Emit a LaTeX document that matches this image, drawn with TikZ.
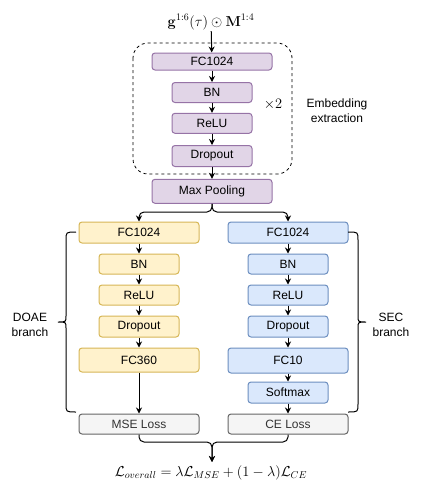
\documentclass[tikz,border=0pt]{standalone}
\usepackage[no-math]{fontspec}
\setmainfont{Liberation Sans}
\usetikzlibrary{arrows.meta}
\definecolor{embfill}{HTML}{E1D5E7}
\definecolor{embline}{HTML}{9673A6}
\definecolor{doafill}{HTML}{FFF2CC}
\definecolor{doaline}{HTML}{D6B656}
\definecolor{secfill}{HTML}{DAE8FC}
\definecolor{secline}{HTML}{6C8EBF}
\definecolor{lossfill}{HTML}{F5F5F5}
\definecolor{lossline}{HTML}{666666}
\definecolor{losstext}{HTML}{333333}
\begin{document}
\begin{tikzpicture}[x=1pt,y=-1pt,line width=1pt,
		font=\fontsize{12}{15}\selectfont,
		layer/.style={draw,rounded corners=3pt,inner sep=0pt,minimum height=20pt},
		wide/.style={minimum width=120pt},
		narrow/.style={minimum width=80pt},
		emb/.style={layer,fill=embfill,draw=embline},
		doa/.style={layer,fill=doafill,draw=doaline},
		sec/.style={layer,fill=secfill,draw=secline},
		loss/.style={layer,fill=lossfill,draw=lossline,text=losstext},
		formula/.style={font=\fontsize{14}{17}\selectfont,inner sep=1pt},
		arr/.style={-{Stealth[length=6pt,width=6pt,inset=2pt]}}]
		\useasboundingbox (0,0) rectangle (422,493);
		% embedding extraction
		\node [formula] (in) at(211,22) {$\mathbf{g}^{1:6}(\tau)\odot\mathbf{M}^{1:4}$};
		\draw [dash pattern=on 3pt off 3pt,rounded corners=15pt,line width=.8pt] (133,43) rectangle (292,174);
		\node [emb,wide,minimum height=17pt] (fc0) at(212,61.5) {FC1024};
		\node [emb,narrow] (bn0) at(212,92.5) {BN};
		\node [emb,narrow] (relu0) at(212,123.3) {ReLU};
		\node [emb,narrow,minimum height=21pt] (drop0) at(212,156) {Dropout};
		\node [emb,wide,minimum height=24pt] (mp) at(212,191.3) {Max Pooling};
		\node [formula] (times) at(273,104) {$\times 2$};
		\node [align=center] (embtxt) at(337,111) {Embedding\\extraction};
		\draw [arr] (in) -- (fc0);
		\draw [arr] (fc0) -- (bn0);
		\draw [arr] (bn0) -- (relu0);
		\draw [arr] (relu0) -- (drop0);
		\draw [arr] (drop0) -- (mp);
		% DOAE branch
		\node [doa,wide,minimum height=21pt] (fc1) at(139,232.5) {FC1024};
		\node [doa,narrow] (bn1) at(139,264) {BN};
		\node [doa,narrow] (relu1) at(139,295) {ReLU};
		\node [doa,narrow,minimum height=21pt] (drop1) at(139,326.5) {Dropout};
		\node [doa,wide,minimum height=24pt] (fc360) at(139,360) {FC360};
		% SEC branch
		\node [sec,wide,minimum height=21pt] (fc2) at(288,232.5) {FC1024};
		\node [sec,narrow] (bn2) at(288,264) {BN};
		\node [sec,narrow] (relu2) at(288,295) {ReLU};
		\node [sec,narrow,minimum height=21pt] (drop2) at(288,326.5) {Dropout};
		\node [sec,wide,minimum height=25pt] (fc10) at(288,360.5) {FC10};
		\node [sec,narrow,minimum height=21pt] (soft) at(288,392.5) {Softmax};
		\coordinate (split) at(212,212);
		\draw [arr,rounded corners=5pt] (mp.south) -- (split) -| (fc1.north);
		\draw [arr,rounded corners=5pt] (mp.south) -- (split) -| (fc2.north);
		\draw [arr] (fc1) -- (bn1);
		\draw [arr] (bn1) -- (relu1);
		\draw [arr] (relu1) -- (drop1);
		\draw [arr] (drop1) -- (fc360);
		\draw [arr] (fc2) -- (bn2);
		\draw [arr] (bn2) -- (relu2);
		\draw [arr] (relu2) -- (drop2);
		\draw [arr] (drop2) -- (fc10);
		\draw [arr] (fc10) -- (soft);
		% braces
		\draw (76,232) .. controls (66,232) .. (66,240) -- (66,316) .. controls (66,322) .. (58,322)
			.. controls (66,322) .. (66,328) -- (66,404) .. controls (66,412) .. (76,412);
		\draw (348,232) .. controls (358,232) .. (358,240) -- (358,316) .. controls (358,322) .. (366,322)
			.. controls (358,322) .. (358,328) -- (358,404) .. controls (358,412) .. (348,412);
		\node [align=center] (doatxt) at(30,325) {DOAE\\branch};
		\node [align=center] (sectxt) at(391,325) {SEC\\branch};
		% losses
		\node [loss,wide] (mse) at(139,424) {MSE Loss};
		\node [loss,wide] (ce) at(288,424) {CE Loss};
		\draw [arr] (fc360) -- (mse);
		\draw [arr] (soft) -- (ce);
		\node [formula,font=\fontsize{14.5}{17}\selectfont] (total) at(211,473) {$\mathcal{L}_{overall}=\lambda\mathcal{L}_{MSE}+(1-\lambda)\mathcal{L}_{CE}$};
		\coordinate (merge) at(212,442);
		\draw [arr,rounded corners=5pt] (mse.south) |- (merge) -- (212,462);
		\draw [arr,rounded corners=5pt] (ce.south) |- (merge) -- (212,462);
	\end{tikzpicture}
\end{document}
